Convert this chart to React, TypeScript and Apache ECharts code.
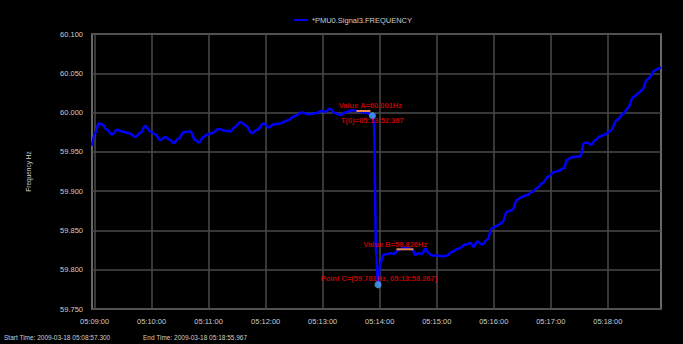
import React, { useEffect, useRef } from 'react';
import * as echarts from 'echarts';

const seriesName = '*PMU0.Signal3.FREQUENCY';

// time in seconds since 05:00:00
const timeSec = [
  537.3, 540.8, 544.2, 547.8, 553.1, 558.4, 563.6, 568.9, 575.8, 582.9,
  588.1, 593.4, 598.7, 603.9, 609.2, 614.4, 619.7, 623.2, 628.4, 633.7,
  640.8, 646.0, 649.5, 654.8, 658.3, 663.6, 670.5, 677.6, 682.9, 688.1,
  693.4, 698.6, 705.7, 711.0, 717.9, 723.2, 728.4, 735.5, 740.7, 744.2,
  749.5, 758.3, 765.3, 772.3, 779.4, 782.9, 787.4, 793.4, 798.6, 803.9,
  811.0, 816.2, 825.0, 830.2, 832.4, 833.7, 836.5, 837.9, 838.3, 840.4,
  844.2, 847.8, 851.3, 854.8, 860.0, 865.3, 870.5, 874.1, 877.6, 881.0,
  884.6, 888.1, 891.6, 895.2, 900.4, 905.7, 911.0, 916.2, 923.1, 930.2,
  935.5, 938.9, 942.5, 947.8, 953.0, 958.3, 963.6, 968.8, 974.1, 979.4,
  984.6, 989.9, 995.1, 1000.4, 1005.7, 1010.9, 1017.9, 1023.1, 1028.4, 1033.7,
  1037.2, 1042.5, 1047.8, 1051.2, 1054.7, 1058.3, 1062.5, 1067.0, 1072.3, 1077.5,
  1082.8, 1089.9, 1096.8, 1100.4, 1107.3, 1112.6, 1116.2, 1121.4, 1126.7, 1128.4,
  1133.7, 1135.9,
];

const freqHz = [
  59.958, 59.974, 59.986, 59.985, 59.978, 59.972, 59.978, 59.976, 59.974, 59.969,
  59.974, 59.983, 59.976, 59.972, 59.965, 59.969, 59.965, 59.961, 59.967, 59.975,
  59.976, 59.965, 59.962, 59.969, 59.972, 59.974, 59.979, 59.977, 59.976, 59.982,
  59.988, 59.984, 59.974, 59.978, 59.986, 59.981, 59.985, 59.986, 59.989, 59.991,
  59.995, 60.000, 59.998, 59.999, 60.002, 60.001, 60.005, 59.999, 59.997, 60.000,
  60.003, 60.002, 60.000, 59.998, 59.996, 59.990, 59.817, 59.783, 59.781, 59.808,
  59.819, 59.820, 59.821, 59.820, 59.825, 59.828, 59.827, 59.826, 59.819, 59.821,
  59.820, 59.827, 59.821, 59.818, 59.818, 59.817, 59.818, 59.823, 59.827, 59.832,
  59.834, 59.829, 59.836, 59.832, 59.838, 59.853, 59.856, 59.860, 59.874, 59.876,
  59.889, 59.893, 59.895, 59.899, 59.904, 59.910, 59.919, 59.924, 59.926, 59.929,
  59.940, 59.943, 59.944, 59.944, 59.961, 59.962, 59.959, 59.965, 59.970, 59.972,
  59.977, 59.991, 59.999, 60.005, 60.020, 60.025, 60.029, 60.042, 60.048, 60.053,
  60.056, 60.058,
];

const xMin = 537.3;
const xMax = 1135.967;
const xTickValues = [540, 600, 660, 720, 780, 840, 900, 960, 1020, 1080];
const yMin = 59.75;
const yMax = 60.1;
const yInterval = 0.05;
const yAxisName = 'Frequency Hz';

// marked points A and C
const markerTimes = [832.367, 838.267];
const markerValues = [59.996, 59.781];

// cursor segments
const cursorStart = [815.5, 857.6];
const cursorEnd = [830.2, 875.5];
const cursorValue = [60.002, 59.826];

// annotation texts, anchored at data coords
const noteTexts = ['Value A=60.001Hz', 'T(0)=05:13:52.367', 'Value B=59.826Hz', 'Point C=(59.781Hz, 05:13:58.267)'];
const noteTimes = [830.2, 832.3, 856.5, 839.2];
const noteValues = [60.0084, 59.9893, 59.8316, 59.7884];

const startText = 'Start Time: 2009-03-18 05:08:57.300';
const endText = 'End Time: 2009-03-18 05:18:55.967';

const pad = (n: number) => (n < 10 ? '0' + n : '' + n);
const fmtTime = (t: number) => {
  const total = Math.round(t);
  const h = 5 + Math.floor(total / 3600);
  const m = Math.floor((total % 3600) / 60);
  const s = total % 60;
  return `${pad(h)}:${pad(m)}:${pad(s)}`;
};

const FONT = 'Liberation Sans, Arial, sans-serif';

export default function App() {
  const ref = useRef<HTMLDivElement>(null);
  useEffect(() => {
    const chart = echarts.init(ref.current!, null, { renderer: 'svg' });
    const lineData = timeSec.map((t, i) => [t, freqHz[i]]);
    const cursorSeries = cursorStart.map((s, i) => ({
      name: 'cursor' + i,
      type: 'line',
      data: [
        [s, cursorValue[i]],
        [cursorEnd[i], cursorValue[i]],
      ],
      showSymbol: false,
      silent: true,
      lineStyle: { color: '#e8874a', width: 2 },
      itemStyle: { color: '#e8874a' },
      z: 4,
    }));
    chart.setOption({
      animation: false,
      backgroundColor: '#000000',
      textStyle: { fontFamily: FONT },
      legend: {
        data: [seriesName],
        top: 11,
        left: 289,
        icon: 'rect',
        itemWidth: 13,
        itemHeight: 2,
        itemGap: 6,
        textStyle: { color: '#cccccc', fontSize: 7.5, fontFamily: FONT },
      },
      grid: {
        left: 92,
        right: 22,
        top: 34,
        bottom: 35,
        show: true,
        borderColor: '#8a8a8a',
        borderWidth: 1.5,
        backgroundColor: '#000000',
      },
      xAxis: {
        type: 'value',
        min: xMin,
        max: xMax,
        axisLine: { show: false },
        axisTick: { show: false, customValues: xTickValues },
        axisLabel: {
          customValues: xTickValues,
          formatter: (v: number) => fmtTime(v),
          color: '#cccccc',
          fontSize: 7.5,
          margin: 8,
          fontFamily: FONT,
        },
        splitLine: { show: true, lineStyle: { color: '#4a4a4a', width: 1.5 } },
      },
      yAxis: {
        type: 'value',
        min: yMin,
        max: yMax,
        interval: yInterval,
        name: yAxisName,
        nameLocation: 'middle',
        nameGap: 60,
        nameTextStyle: { color: '#cccccc', fontSize: 6.5, fontFamily: FONT },
        axisLine: { show: false },
        axisTick: { show: false },
        axisLabel: {
          formatter: (v: number) => v.toFixed(3),
          color: '#cccccc',
          fontSize: 7.5,
          margin: 9,
          fontFamily: FONT,
        },
        splitLine: { show: true, lineStyle: { color: '#4a4a4a', width: 1.5 } },
      },
      series: [
        {
          name: seriesName,
          type: 'line',
          data: lineData,
          showSymbol: false,
          smooth: 0.4,
          smoothMonotone: 'x',
          lineStyle: { color: '#0000ff', width: 2.5 },
          itemStyle: { color: '#0000ee' },
          z: 3,
        },
        ...cursorSeries,
        {
          name: 'markers',
          type: 'scatter',
          symbol: 'circle',
          symbolSize: 7,
          itemStyle: { color: '#4ea8ff' },
          data: markerTimes.map((t, i) => [t, markerValues[i]]),
          z: 5,
        },
        {
          name: 'notes',
          type: 'scatter',
          symbolSize: 1,
          itemStyle: { color: 'rgba(0,0,0,0)' },
          z: 6,
          data: noteTimes.map((t, i) => ({
            value: [t, noteValues[i]],
            label: {
              show: true,
              position: 'inside',
              formatter: noteTexts[i],
              color: '#ee0000',
              fontSize: 7.5,
              fontWeight: 'bold',
              fontFamily: FONT,
            },
          })),
        },
      ],
      graphic: [
        { type: 'text', left: 4, top: 334, style: { text: startText, fill: '#cccccc', fontSize: 6.5, fontFamily: FONT } },
        { type: 'text', left: 143, top: 334, style: { text: endText, fill: '#cccccc', fontSize: 6.5, fontFamily: FONT } },
      ],
    });
    return () => chart.dispose();
  }, []);
  return (
    <div
      ref={ref}
      style={{ position: 'fixed', left: 0, top: 0, width: 683, height: 344, background: '#000' }}
    />
  );
}
